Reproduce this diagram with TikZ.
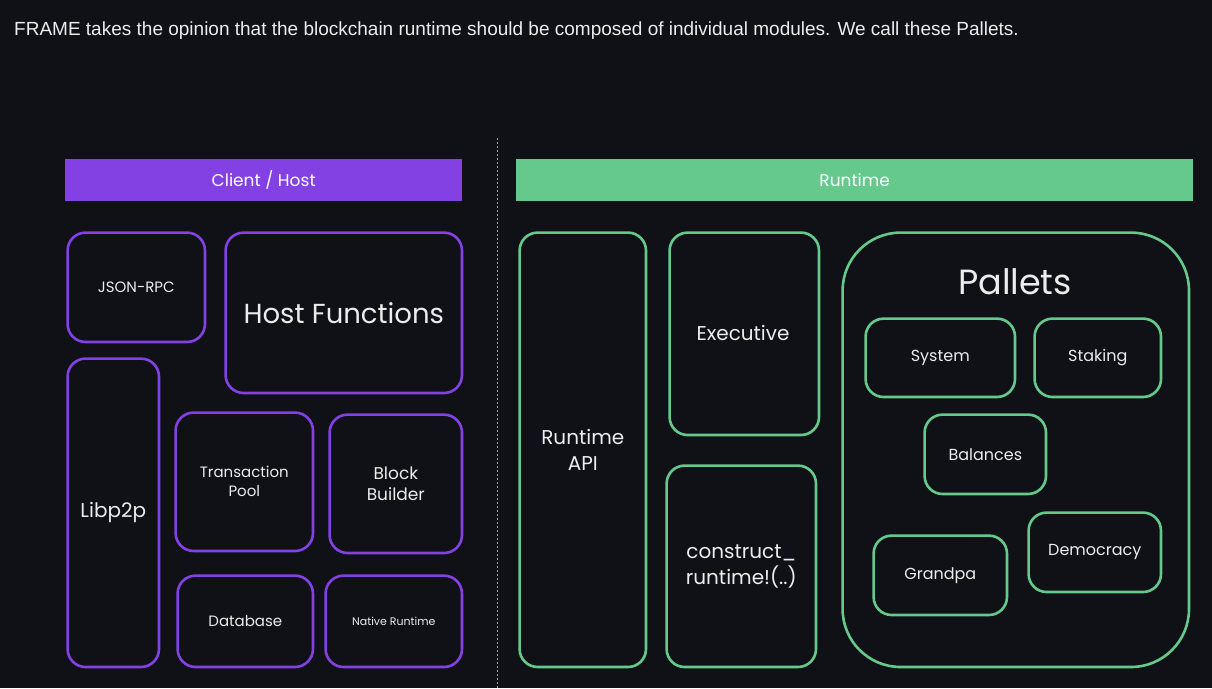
\documentclass[tikz,border=0pt]{standalone}
\usepackage{fontspec}
\setmainfont{Poppins}
\newfontfamily\topfont{Liberation Sans}
\definecolor{bg}{HTML}{0F1117}
\definecolor{purp}{HTML}{8340E3}
\definecolor{grn}{HTML}{64C98A}
\definecolor{txt}{HTML}{ECECEC}
\tikzset{
  base/.style={draw, line width=2.6pt, rounded corners=18pt, anchor=north west, text=txt, align=center, inner sep=0pt},
  pbox/.style={base, draw=purp},
  gbox/.style={base, draw=grn},
  bar/.style={anchor=north west, inner sep=0pt, text=white, font=\fontsize{17}{20}\selectfont},
}
\newcommand{\fs}[1]{\fontsize{#1}{#1}\selectfont}
\begin{document}
\begin{tikzpicture}[x=1pt,y=-1pt]
\fill[bg] (0,0) rectangle (1212,688);
\useasboundingbox (0,0) rectangle (1212,688);
\node[anchor=base west, inner sep=0pt, text=txt, font=\topfont\fontsize{19}{22}\selectfont] (intro) at (14,35) {FRAME takes the opinion that the blockchain runtime should be composed of individual modules. We call these Pallets.};
\coordinate (dtop) at (497,138);
\coordinate (dbot) at (497,688);
\draw[gray!70, line width=1pt, dash pattern=on 2pt off 2pt] (dtop) -- (dbot);
% headers
\node[bar, fill=purp, minimum width=397pt, minimum height=42pt] (client) at (65,159) {Client / Host};
\node[bar, fill=grn, minimum width=677pt, minimum height=42pt] (runtime) at (516,159) {Runtime};
% client boxes
\node[pbox, minimum width=137.4pt, minimum height=109.4pt, font=\fs{15}] (json) at (66.3,231.3) {JSON-RPC};
\node[pbox, minimum width=236.4pt, minimum height=160.4pt, font=\fs{27.5}] (hostf) at (224.3,231.3) {Host Functions};
\node[pbox, minimum width=91.4pt, minimum height=308.4pt, font=\fs{20}] (libp2p) at (66.3,357.3) {Libp2p};
\node[pbox, minimum width=137.4pt, minimum height=138.4pt, font=\fontsize{15}{19}\selectfont] (txpool) at (174.3,411.3) {Transaction\\Pool};
\node[pbox, minimum width=132.4pt, minimum height=138.4pt, font=\fontsize{17}{21}\selectfont] (bb) at (328.3,413.3) {Block\\Builder};
\node[pbox, minimum width=135.4pt, minimum height=91.4pt, font=\fs{15}] (db) at (176.3,574.3) {Database};
\node[pbox, minimum width=136.4pt, minimum height=91.4pt, font=\fs{11}] (native) at (324.3,574.3) {Native Runtime};
% runtime boxes
\node[gbox, minimum width=126.4pt, minimum height=434.4pt, font=\fontsize{20}{26}\selectfont] (rapi) at (518.3,231.3) {Runtime\\API};
\node[gbox, minimum width=149.4pt, minimum height=202.4pt] (exec) at (668.3,231.3) {};
\node[text=txt, font=\fs{20}, inner sep=0pt] (exect) at (743,333) {Executive};
\node[gbox, minimum width=149.4pt, minimum height=201.4pt, font=\fontsize{20}{26}\selectfont] (cr) at (665.3,464.3) {construct\_\\runtime!(..)};
\node[gbox, rounded corners=58pt, minimum width=346.4pt, minimum height=434.4pt] (pallets) at (841.3,231.3) {};
\node[text=txt, font=\fs{35}, inner sep=0pt] (ptitle) at (1015,282) {Pallets};
\node[gbox, minimum width=149.4pt, minimum height=78.4pt, font=\fs{16}] (system) at (864.3,317.3) {System};
\node[gbox, minimum width=126.4pt, minimum height=78.4pt, font=\fs{16}] (staking) at (1033.3,317.3) {Staking};
\node[gbox, minimum width=121.4pt, minimum height=79.4pt, font=\fs{16}] (balances) at (923.3,413.3) {Balances};
\node[gbox, minimum width=133.4pt, minimum height=79.4pt, font=\fs{16}] (grandpa) at (872.3,534.3) {Grandpa};
\node[gbox, minimum width=132.4pt, minimum height=79.4pt, font=\fs{16}] (democracy) at (1027.3,511.3) {Democracy};
\end{tikzpicture}
\end{document}
